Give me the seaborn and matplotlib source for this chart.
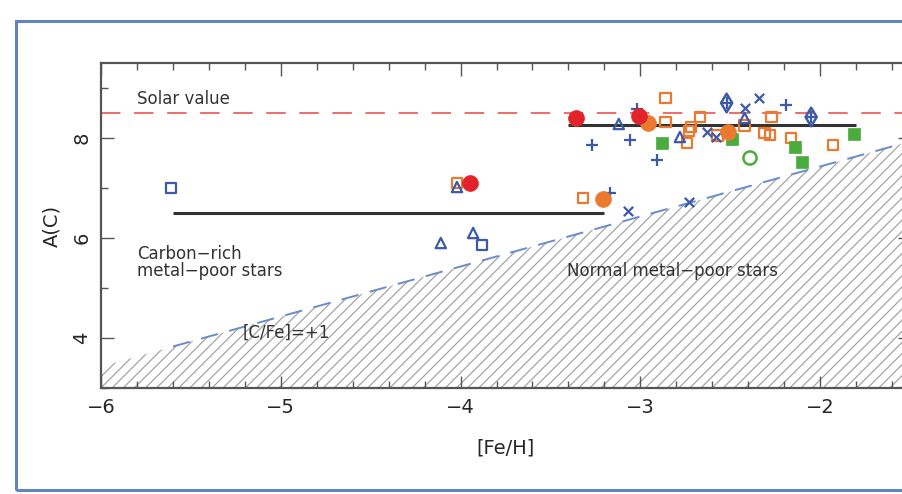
import matplotlib.pyplot as plt
import matplotlib.patches as mpatches
import pandas as pd
import seaborn as sns

# values ([Fe/H], A(C))
BLUE_SQ_FEH = [-5.61, -3.88]
BLUE_SQ_AC = [7.00, 5.86]
BLUE_TRI_FEH = [-4.02, -4.11, -3.93, -3.12, -2.78, -2.42]
BLUE_TRI_AC = [7.02, 5.90, 6.10, 8.28, 8.02, 8.40]
BLUE_PLUS_FEH = [-3.27, -3.06, -2.91, -3.02, -2.19, -3.17]
BLUE_PLUS_AC = [7.86, 7.96, 7.56, 8.58, 8.66, 6.90]
BLUE_X_FEH = [-2.63, -2.34, -2.42, -2.58, -3.07, -2.73]
BLUE_X_AC = [8.12, 8.80, 8.60, 8.02, 6.54, 6.72]
BLUE_DIA_FEH = [-2.52, -2.05]
BLUE_DIA_AC = [8.70, 8.42]
ORANGE_SQ_FEH = [-4.02, -3.32, -2.86, -2.86, -2.67, -2.72, -2.74, -2.73,
                 -2.57, -2.42, -2.27, -2.31, -2.28, -2.16, -1.93]
ORANGE_SQ_AC = [7.10, 6.80, 8.80, 8.32, 8.42, 8.22, 7.90, 8.14,
                8.05, 8.25, 8.42, 8.10, 8.06, 8.00, 7.86]
RED_CIRC_FEH = [-3.95, -3.36, -3.01]
RED_CIRC_AC = [7.10, 8.40, 8.44]
ORANGE_CIRC_FEH = [-3.21, -2.96, -2.51]
ORANGE_CIRC_AC = [6.78, 8.30, 8.12]
GREEN_SQ_FEH = [-2.88, -2.49, -2.14, -2.10, -1.81]
GREEN_SQ_AC = [7.90, 7.98, 7.82, 7.52, 8.08]
GREEN_OPEN_FEH = [-2.39]
GREEN_OPEN_AC = [7.60]

# reference lines
SOLAR_AC = 8.5
CEMP_MEAN_FEH = [-5.6, -3.2]
CEMP_MEAN_AC = 6.5
NORMAL_MEAN_FEH = [-3.4, -1.8]
NORMAL_MEAN_AC = 8.25
CFE1_FEH = [-6.0, -5.6, -1.5]
CFE1_AC = [3.43, 3.83, 7.93]

BLUE = "#3c5aa8"
ORANGE = "#ec7a2e"
RED = "#e2232b"
GREEN = "#4aac3c"

sns.set_theme(style="ticks")
plt.rcParams["font.family"] = ["DejaVu Sans"]
plt.rcParams["hatch.linewidth"] = 0.9

fig = plt.figure(figsize=(9.02, 4.94), dpi=100)
ax = fig.add_axes([101 / 902, 106 / 494, 809 / 902, 325 / 494])

# excluded region below [C/Fe]=+1
ax.fill_between(CFE1_FEH, 3.0, CFE1_AC, facecolor="none",
                edgecolor="#a4a4a4", hatch="///", linewidth=0, zorder=0)
ax.plot(CFE1_FEH[1:], CFE1_AC[1:], color="#6a8ccb", lw=1.4,
        dashes=(9, 6), zorder=1)
ax.axhline(SOLAR_AC, color="#f06a6a", lw=1.4, dashes=(10, 7), zorder=1)
ax.hlines(CEMP_MEAN_AC, *CEMP_MEAN_FEH, color="#333333", lw=2.2, zorder=2)
ax.hlines(NORMAL_MEAN_AC, *NORMAL_MEAN_FEH, color="#333333", lw=2.2, zorder=2)

def pts(feh, ac):
    return pd.DataFrame({"feh": feh, "ac": ac})

def open_marks(feh, ac, marker, color, s, lw=1.6):
    sns.scatterplot(data=pts(feh, ac), x="feh", y="ac", marker=marker, s=s,
                    facecolor="none", edgecolor=color, linewidth=lw,
                    ax=ax, zorder=3)

def line_marks(feh, ac, marker, color, s, lw=1.6):
    sns.scatterplot(data=pts(feh, ac), x="feh", y="ac", marker=marker, s=s,
                    color=color, linewidth=lw, ax=ax, zorder=3)

def filled_marks(feh, ac, marker, color, s):
    sns.scatterplot(data=pts(feh, ac), x="feh", y="ac", marker=marker, s=s,
                    color=color, edgecolor=color, linewidth=0.5,
                    ax=ax, zorder=4)

open_marks(ORANGE_SQ_FEH, ORANGE_SQ_AC, "s", ORANGE, 55)
open_marks(BLUE_SQ_FEH, BLUE_SQ_AC, "s", BLUE, 55)
open_marks(BLUE_TRI_FEH, BLUE_TRI_AC, "^", BLUE, 55)
line_marks(BLUE_PLUS_FEH, BLUE_PLUS_AC, "+", BLUE, 70)
line_marks(BLUE_X_FEH, BLUE_X_AC, "x", BLUE, 45)
open_marks(BLUE_DIA_FEH, BLUE_DIA_AC, "d", BLUE, 90, lw=1.8)
line_marks(BLUE_DIA_FEH, BLUE_DIA_AC, "+", BLUE, 80)
filled_marks(GREEN_SQ_FEH, GREEN_SQ_AC, "s", GREEN, 85)
open_marks(GREEN_OPEN_FEH, GREEN_OPEN_AC, "o", GREEN, 90, lw=1.8)
filled_marks(ORANGE_CIRC_FEH, ORANGE_CIRC_AC, "o", ORANGE, 130)
filled_marks(RED_CIRC_FEH, RED_CIRC_AC, "o", RED, 130)

ax.set_xlim(-6, -1.5)
ax.set_ylim(3, 9.5)
ax.set_xticks([-6, -5, -4, -3, -2])
ax.set_xticks([-6 + 0.2 * i for i in range(23)], minor=True)
ax.set_yticks([4, 6, 8])
ax.set_yticks([3, 5, 7, 9], minor=True)
ax.tick_params(which="both", direction="in", top=True, right=True,
               color="#555555", width=1.0)
ax.tick_params(which="major", length=9, labelsize=14, pad=7)
ax.tick_params(which="minor", length=5)
ax.tick_params(axis="y", labelrotation=90)
for lab in ax.get_yticklabels():
    lab.set_va("center")
for sp in ax.spines.values():
    sp.set_color("#555555")
    sp.set_linewidth(1.6)

ax.set_xlabel("[Fe/H]", fontsize=14, labelpad=16)
ax.set_ylabel("A(C)", fontsize=14, labelpad=8)

txt = dict(fontsize=12, color="#333333", va="center", ha="left")
ax.text(-5.8, 8.78, "Solar value", **txt)
ax.text(-5.8, 5.68, "Carbon\u2212rich", **txt)
ax.text(-5.8, 5.34, "metal\u2212poor stars", **txt)
ax.text(-3.41, 5.34, "Normal metal\u2212poor stars", **txt)
ax.text(-5.21, 4.1, "[C/Fe]=+1", **txt)

# blue frame around the panel
fig.patches.append(mpatches.Rectangle((16 / 902, 4 / 494), 1.0, 469 / 494,
                                      transform=fig.transFigure, fill=False,
                                      edgecolor="#5f85bd", linewidth=2.2))

fig.savefig("out.png", dpi=100)
